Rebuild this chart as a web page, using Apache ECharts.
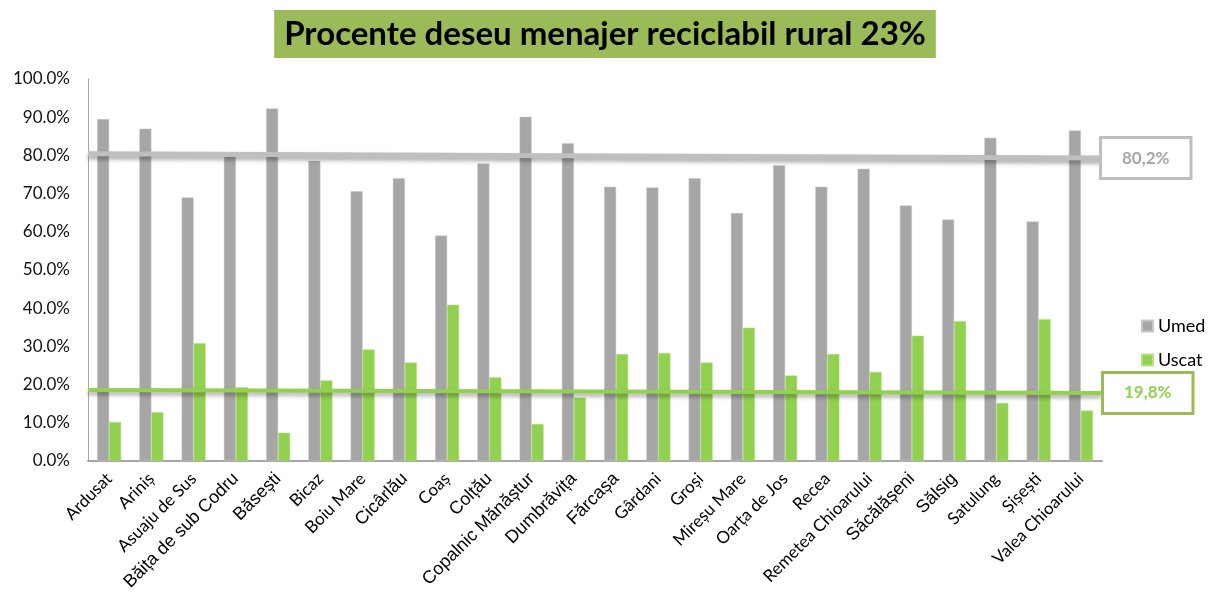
<!DOCTYPE html>
<html>
<head>
<meta charset="utf-8">
<script src="https://cdn.jsdelivr.net/npm/echarts@6/dist/echarts.min.js"></script>
<style>
  html, body { margin: 0; padding: 0; background: #fff; }
  #chart { width: 1210px; height: 605px; }
</style>
</head>
<body>
<div id="chart"></div>
<script>
const localitati = ['Ardusat', 'Ariniș', 'Asuaju de Sus', 'Băița de sub Codru', 'Băsești', 'Bicaz',
  'Boiu Mare', 'Cicârlău', 'Coaș', 'Colțău', 'Copalnic Mănăștur', 'Dumbrăvița', 'Fărcașa',
  'Gârdani', 'Groși', 'Mireșu Mare', 'Oarța de Jos', 'Recea', 'Remetea Chioarului',
  'Săcălășeni', 'Sălsig', 'Satulung', 'Șișești', 'Valea Chioarului']
const umed = [89.5, 87.0, 69.0, 79.8, 92.3, 78.6, 70.6, 74.0, 59.0, 77.9, 90.1, 83.2, 71.8,
  71.6, 74.0, 64.9, 77.4, 71.8, 76.5, 66.9, 63.2, 84.6, 62.7, 86.5]
const uscat = [10.2, 12.8, 30.8, 19.3, 7.4, 21.1, 29.2, 25.8, 40.9, 21.9, 9.7, 16.6, 28.0,
  28.3, 25.8, 34.9, 22.4, 28.0, 23.3, 32.8, 36.6, 15.2, 37.1, 13.2]
// trend lines (start, end) and their labels
const trendUmed = [80.4, 79.3]
const trendUscat = [18.6, 17.8]
const trendLabels = ['80,2%', '19,8%']
const yTicks = [0, 10, 20, 30, 40, 50, 60, 70, 80, 90, 100]

// labels that use the larger font in the original
const bigLabels = new Set(['Băița de sub Codru', 'Băsești', 'Cicârlău', 'Colțău',
  'Copalnic Mănăștur', 'Dumbrăvița', 'Fărcașa', 'Săcălășeni', 'Sălsig'])

const chart = echarts.init(document.getElementById('chart'))

const trendLine = (name, vals, color, width, label, boxColor, textColor, dist) => ({
  name: name,
  type: 'line',
  xAxisIndex: 1,
  symbol: 'none',
  silent: true,
  z: 5,
  lineStyle: {
    color: color,
    width: width,
    shadowColor: 'rgba(0,0,0,0.35)',
    shadowBlur: 4,
    shadowOffsetY: 3
  },
  endLabel: {
    show: true,
    distance: dist,
    formatter: () => label,
    backgroundColor: '#fff',
    borderColor: boxColor,
    borderWidth: 3,
    padding: [10, 20],
    lineHeight: 18,
    fontFamily: 'Lato',
    fontSize: 17,
    fontWeight: 'bold',
    color: textColor
  },
  data: [[0, vals[0]], [1, vals[1]]]
})

const option = {
  animation: false,
  backgroundColor: '#fff',
  title: {
    text: 'Procente deseu menajer reciclabil rural 23%',
    left: 'center',
    top: 10,
    backgroundColor: '#9bbb59',
    padding: [6, 10, 6, 10],
    textStyle: {
      fontFamily: 'Lato',
      fontSize: 33,
      fontWeight: 'bold',
      color: '#000',
      lineHeight: 36
    }
  },
  legend: {
    data: ['Umed', 'Uscat'],
    orient: 'vertical',
    left: 1136,
    top: 312,
    itemWidth: 11,
    itemHeight: 11,
    itemGap: 16,
    icon: 'rect',
    textStyle: { fontFamily: 'Lato', fontSize: 18, color: '#000' }
  },
  grid: { left: 88, right: 108, top: 79, bottom: 144 },
  xAxis: [
    {
      type: 'category',
      data: localitati,
      axisLine: { lineStyle: { color: '#a6a6a6', width: 2 } },
      axisTick: { show: false },
      axisLabel: {
        interval: 0,
        rotate: 45,
        margin: 15,
        formatter: v => bigLabels.has(v) ? '{b|' + v + '}' : '{s|' + v + '}',
        rich: {
          b: { fontFamily: 'Liberation Sans', fontSize: 18, color: '#000' },
          s: { fontFamily: 'Lato', fontSize: 17, color: '#000' }
        }
      }
    },
    { type: 'value', min: 0, max: 1, show: false }
  ],
  yAxis: {
    type: 'value',
    min: yTicks[0],
    max: yTicks[yTicks.length - 1],
    interval: 10,
    axisLine: { show: true, lineStyle: { color: '#a6a6a6', width: 1 } },
    axisTick: { show: false },
    splitLine: { show: false },
    axisLabel: {
      margin: 18,
      fontFamily: 'Lato',
      fontSize: 17,
      color: '#111',
      formatter: v => v.toFixed(1) + '%'
    }
  },
  series: [
    {
      name: 'Umed',
      type: 'bar',
      barWidth: 12,
      barGap: '0%',
      itemStyle: { color: '#a6a6a6', borderColor: '#c8c8c8', borderWidth: 0.5 },
      data: umed
    },
    {
      name: 'Uscat',
      type: 'bar',
      barWidth: 12,
      barGap: '0%',
      itemStyle: { color: '#92d050', borderColor: '#b5e08a', borderWidth: 0.5 },
      data: uscat
    },
    trendLine('Medie umed', trendUmed, '#bfbfbf', 5, trendLabels[0], '#bfbfbf', '#a6a6a6', 0),
    trendLine('Medie uscat', trendUscat, '#92d050', 4, trendLabels[1], '#9bbb59', '#92d050', 2)
  ]
}

chart.setOption(option)
</script>
</body>
</html>
